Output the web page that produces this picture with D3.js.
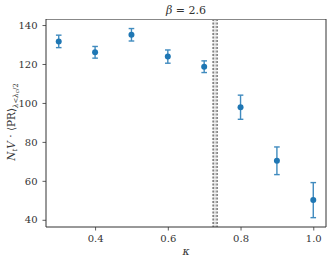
<!DOCTYPE html>
<html>
<head>
<meta charset="utf-8">
<script src="https://cdn.jsdelivr.net/npm/d3@7"></script>
<style>
  body { margin: 0; background: #fff; }
  svg { display: block; font-family: "DejaVu Serif", serif; }
</style>
</head>
<body>
<div id="svg-container"></div>
<script>
// data
const kappa = [0.3, 0.4, 0.5, 0.6, 0.7, 0.8, 0.9, 1.0];
const prValue = [131.6, 126.0, 135.0, 123.8, 118.6, 97.8, 70.3, 50.1];
const prError = [3.2, 3.0, 3.2, 3.4, 3.0, 6.2, 7.1, 9.0];
const kappaC = 0.73;
const kappaCErr = 0.0055;
const xTicks = [0.4, 0.6, 0.8, 1.0];
const yTicks = [40, 60, 80, 100, 120, 140];

const width = 332, height = 264;
const margin = { top: 19, right: 6, bottom: 37, left: 46 };
const serif = '"DejaVu Serif", serif';

const svg = d3.select("#svg-container").append("svg")
  .attr("width", width).attr("height", height);

const x = d3.scaleLinear().domain([0.265, 1.035]).range([margin.left, width - margin.right]);
const y = d3.scaleLinear().domain([36.3, 143.1]).range([height - margin.bottom, margin.top]);

// critical kappa band
svg.append("rect")
  .attr("x", x(kappaC - kappaCErr))
  .attr("y", margin.top)
  .attr("width", x(kappaC + kappaCErr) - x(kappaC - kappaCErr))
  .attr("height", y.range()[0] - margin.top)
  .attr("fill", "#f0f0f0");

svg.append("line")
  .attr("x1", x(kappaC)).attr("x2", x(kappaC))
  .attr("y1", margin.top).attr("y2", y.range()[0])
  .attr("stroke", "#aaa").attr("stroke-width", 0.8)
  .attr("stroke-dasharray", "2,1.5");

[kappaC - kappaCErr, kappaC + kappaCErr].forEach((k) => {
  svg.append("line")
    .attr("x1", x(k)).attr("x2", x(k))
    .attr("y1", margin.top).attr("y2", y.range()[0])
    .attr("stroke", "#333").attr("stroke-width", 1)
    .attr("stroke-dasharray", "2,1.5");
});

// axes
const xAxis = d3.axisBottom(x).tickValues(xTicks).tickFormat(d3.format(".1f")).tickSize(3.5).tickPadding(4);
const yAxis = d3.axisLeft(y).tickValues(yTicks).tickSize(3.5).tickPadding(5);

svg.append("g")
  .attr("transform", `translate(0,${y.range()[0]})`)
  .call(xAxis)
  .call((g) => g.select(".domain").remove())
  .attr("font-family", serif);

svg.append("g")
  .attr("transform", `translate(${margin.left},0)`)
  .call(yAxis)
  .call((g) => g.select(".domain").remove())
  .attr("font-family", serif);

svg.selectAll(".tick line").attr("stroke", "#333").attr("stroke-width", 0.8);
svg.selectAll(".tick text")
  .style("font-size", "10px")
  .style("fill", "#333");

// frame
const x0 = margin.left, x1 = width - margin.right, y0 = margin.top, y1 = height - margin.bottom;
svg.append("line").attr("x1", x0).attr("x2", x1).attr("y1", y0 + 0.5).attr("y2", y0 + 0.5)
  .attr("stroke", "#888").attr("stroke-width", 1.2);
svg.append("line").attr("x1", x0).attr("x2", x1).attr("y1", y1).attr("y2", y1)
  .attr("stroke", "#333").attr("stroke-width", 1);
svg.append("line").attr("x1", x0).attr("x2", x0).attr("y1", y0).attr("y2", y1)
  .attr("stroke", "#333").attr("stroke-width", 1);
svg.append("line").attr("x1", x1).attr("x2", x1).attr("y1", y0).attr("y2", y1)
  .attr("stroke", "#333").attr("stroke-width", 1);

// error bars
const pts = kappa.map((k, i) => ({ k: k, v: prValue[i], e: prError[i] }));
const color = "#1f77b4";

const eb = svg.append("g").attr("stroke", color).attr("stroke-width", 1.4).attr("opacity", 0.85);
pts.forEach((d) => {
  eb.append("line")
    .attr("x1", x(d.k)).attr("x2", x(d.k))
    .attr("y1", y(d.v - d.e)).attr("y2", y(d.v + d.e));
  [d.v - d.e, d.v + d.e].forEach((v) => {
    eb.append("line")
      .attr("x1", x(d.k) - 2.8).attr("x2", x(d.k) + 2.8)
      .attr("y1", y(v)).attr("y2", y(v));
  });
});

svg.selectAll(".pt")
  .data(pts)
  .enter()
  .append("circle")
  .attr("cx", (d) => x(d.k))
  .attr("cy", (d) => y(d.v))
  .attr("r", 3)
  .attr("fill", color);

// title
svg.append("text")
  .attr("x", (x0 + x1) / 2)
  .attr("y", 14)
  .attr("text-anchor", "middle")
  .style("font-size", "11px")
  .style("fill", "#333")
  .html('<tspan font-style="italic">β</tspan> = 2.6');

// x label
svg.append("text")
  .attr("x", (x0 + x1) / 2)
  .attr("y", 255)
  .attr("text-anchor", "middle")
  .style("font-size", "11px")
  .style("font-style", "italic")
  .style("fill", "#333")
  .text("κ");

// y label
svg.append("text")
  .attr("transform", `translate(15,122) rotate(-90)`)
  .attr("text-anchor", "middle")
  .style("font-size", "10.5px")
  .style("fill", "#333")
  .html('<tspan font-style="italic">N</tspan><tspan font-style="italic" font-size="7px" dy="2">t</tspan>'
    + '<tspan font-style="italic" dy="-2">V</tspan> · ⟨PR⟩'
    + '<tspan font-size="7px" dy="2.5"><tspan font-style="italic">λ</tspan>&lt;<tspan font-style="italic">λ</tspan></tspan>'
    + '<tspan font-size="5.5px" font-style="italic" dy="1.5">c</tspan>'
    + '<tspan font-size="7px" dy="-1.5">/2</tspan>');
</script>
</body>
</html>
